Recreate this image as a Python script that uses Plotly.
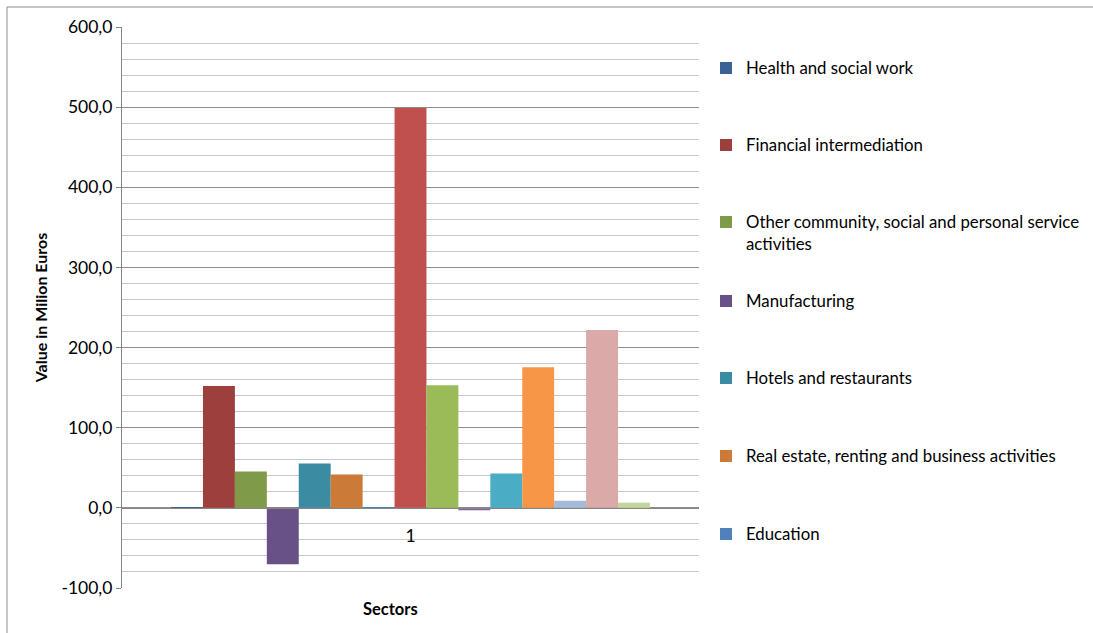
import plotly.graph_objects as go

# ---- data ----
categories = ["1"]
series_names = [
    "Health and social work",
    "Financial intermediation",
    "Other community, social and personal service<br>activities",
    "Manufacturing",
    "Hotels and restaurants",
    "Real estate, renting and business activities",
    "Education",
    "Series 8", "Series 9", "Series 10", "Series 11",
    "Series 12", "Series 13", "Series 14", "Series 15",
]
series_values = [
    -1.0, 152.0, 45.5, -70.5, 55.5, 41.5, 0.5,
    499.0, 153.0, -3.0, 43.0, 175.5, 9.0, 222.0, 6.5,
]
series_colors = [
    "#3B6294", "#9D403D", "#7F9A48", "#675186", "#3B8CA3", "#CC7A37", "#4F81BD",
    "#C0504D", "#9BBB59", "#8064A2", "#4BACC6", "#F79646", "#A7B9DA", "#DAA9A8", "#C3D69B",
]
shown_in_legend = 7
y_tickvals = [-100, 0, 100, 200, 300, 400, 500, 600]
y_ticktext = ["-100,0", "0,0", "100,0", "200,0", "300,0", "400,0", "500,0", "600,0"]

W, H = 1093, 633
ML, MR, MT, MB = 122, 394, 27, 45
plot_w = W - ML - MR
plot_h = H - MT - MB

FONT = "Lato"
fig = go.Figure()
for i, (name, val, col) in enumerate(zip(series_names, series_values, series_colors)):
    leg = "legend" if i == 0 else f"legend{i + 1}"
    fig.add_trace(go.Bar(
        x=categories, y=[val], name=name,
        marker=dict(color=col, line=dict(width=0)),
        showlegend=i < shown_in_legend,
        legend=leg if i < shown_in_legend else "legend",
    ))

# legend layout: one legend box per entry, evenly spaced like the original
legend_centers_px = [68, 145, 233, 301, 378, 456, 534]
legend_left_px = 706
layout_legends = {}
for i, cy in enumerate(legend_centers_px):
    key = "legend" if i == 0 else f"legend{i + 1}"
    layout_legends[key] = dict(
        x=legend_left_px / W, xref="container", xanchor="left",
        y=1 - cy / H, yref="container", yanchor="middle",
        font=dict(family=FONT, size=16.8, color="#000000"),
        bgcolor="rgba(0,0,0,0)", borderwidth=0,
        valign="top",
    )

fig.update_layout(
    width=W, height=H,
    margin=dict(l=ML, r=MR, t=MT, b=MB, pad=0),
    paper_bgcolor="white", plot_bgcolor="white",
    barmode="group", bargap=0.17, bargroupgap=0,
    font=dict(family=FONT, size=17, color="#000000"),
    **layout_legends,
)

fig.update_yaxes(
    range=[-100, 600],
    tickmode="array", tickvals=y_tickvals, ticktext=y_ticktext,
    ticks="outside", ticklen=5, tickcolor="#868686", tickwidth=1,
    showline=True, linecolor="#868686", linewidth=1,
    showgrid=True, gridcolor="#8E8E8E", gridwidth=1,
    zeroline=False,
    minor=dict(dtick=20, tick0=0, showgrid=True, gridcolor="#C8C8C8", gridwidth=1, ticks=""),
    tickfont=dict(family=FONT, size=17.5, color="#000000"),
    title=dict(text="Value in Milion Euros", font=dict(family=FONT, size=16, color="#000000", weight="bold"), standoff=9),
    automargin=False,
)

fig.update_xaxes(
    type="category",
    anchor="free", position=100 / 700,
    showline=True, linecolor="#868686", linewidth=1,
    showgrid=False, zeroline=False, ticks="",
    tickfont=dict(family=FONT, size=17.5, color="#000000"),
    ticklabelstandoff=12,
    automargin=False,
)

# "Sectors" axis caption
fig.add_annotation(
    text="<b>Sectors</b>", xref="paper", yref="paper",
    x=(390 - ML) / plot_w, y=(H - MB - 609) / plot_h,
    xanchor="center", yanchor="middle", showarrow=False,
    font=dict(family=FONT, size=16.5, color="#000000"),
)

# outer chart border (only top and left visible in the crop)
fig.add_shape(
    type="rect", xref="paper", yref="paper",
    x0=(7 - ML) / plot_w, x1=(1250 - ML) / plot_w,
    y0=(H - MB - 720) / plot_h, y1=(H - MB - 7) / plot_h,
    line=dict(color="#8C8C8C", width=1), fillcolor="rgba(0,0,0,0)", layer="above",
)

fig.write_html(
    "out.html",
    config={"displayModeBar": False},
    post_script="document.body.style.margin='0';document.body.style.padding='0';",
)
